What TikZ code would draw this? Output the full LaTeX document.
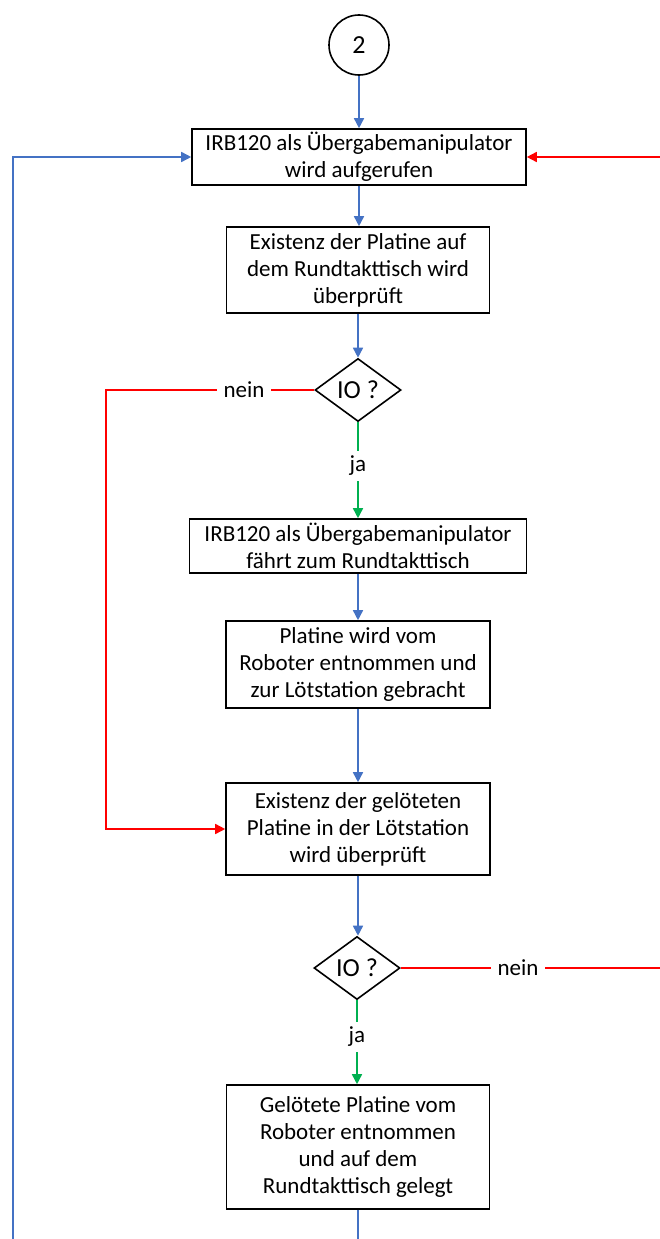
\documentclass[tikz,border=0pt]{standalone}
\usepackage{fontspec}
\setmainfont{Carlito}
\usetikzlibrary{shapes.geometric,arrows.meta}
\definecolor{flowblue}{HTML}{4472C4}
\definecolor{flowred}{HTML}{FF0000}
\definecolor{flowgreen}{HTML}{00B050}
\begin{document}
\begin{tikzpicture}[x=1pt,y=-1pt,
  every node/.style={font=\fontsize{23}{27}\selectfont},
  stepbox/.style={draw=black, line width=1.6pt, rectangle, align=center, inner sep=0pt},
  decision/.style={draw=black, line width=1.6pt, shape=diamond, inner sep=0pt,
    minimum width=86pt, minimum height=63pt, font=\fontsize{26}{30}\selectfont},
  connector/.style={draw=black, line width=1.6pt, circle, minimum size=60pt, inner sep=0pt,
    font=\fontsize{26}{30}\selectfont},
  tip/.style={-{Triangle[length=10pt,width=10pt]}},
  bluepath/.style={draw=flowblue, line width=1.6pt},
  redpath/.style={draw=flowred, line width=1.6pt},
  greenpath/.style={draw=flowgreen, line width=1.6pt},
  lbl/.style={fill=white, inner xsep=7pt, inner ysep=5pt}
]
\useasboundingbox (0,0) rectangle (660,1239);
\clip (0,0) rectangle (660,1239);

% process steps
\node[connector] (c2) at (359,45) {2};
\node[stepbox, minimum width=334pt, minimum height=56pt] (b1) at (359,157)
  {IRB120 als Übergabemanipulator\\wird aufgerufen};
\node[stepbox, minimum width=263pt, minimum height=86pt] (b2) at (358,270)
  {Existenz der Platine auf\\dem Rundtakttisch wird\\überprüft};
\node[decision] (d1) at (358,390) {IO ?};
\node[stepbox, minimum width=337pt, minimum height=54pt] (b3) at (358,546)
  {IRB120 als Übergabemanipulator\\fährt zum Rundtakttisch};
\node[stepbox, minimum width=264pt, minimum height=87pt] (b4) at (358,664.5)
  {Platine wird vom\\Roboter entnommen und\\zur Lötstation gebracht};
\node[stepbox, minimum width=264pt, minimum height=92pt] (b5) at (358,829)
  {Existenz der gelöteten\\Platine in der Lötstation\\wird überprüft};
\node[decision] (d2) at (357,968) {IO ?};
\node[stepbox, minimum width=263pt, minimum height=124pt] (b6) at (358,1147)
  {Gelötete Platine vom\\Roboter entnommen\\und auf dem\\Rundtakttisch gelegt};

% corner points of the loops
\coordinate (nl) at (106,390);
\coordinate (lb) at (13,1280);
\coordinate (lt) at (13,157);
\coordinate (rb) at (672,968);
\coordinate (rt) at (672,157);

% main flow
\draw[bluepath, tip] (c2) -- (b1);
\draw[bluepath, tip] (b1.south) -- (b1.south |- b2.north);
\draw[bluepath, tip] (b2) -- (d1);
\draw[bluepath, tip] (b3) -- (b4);
\draw[bluepath, tip] (b4) -- (b5);
\draw[bluepath, tip] (b5.south) -- (b5.south |- d2.north);
\draw[greenpath, tip] (d1) -- (b3);
\draw[greenpath, tip] (d2.south) -- (d2.south |- b6.north);

% return loop to the start
\draw[bluepath, tip] (b6.south) |- (lb) -- (lt) -- (b1.west);

% "nein" branches
\draw[redpath, tip] (d1.west) -- (nl) |- (b5.west);
\draw[redpath, tip] (d2.east) -- (rb) -- (rt) -- (b1.east);

% branch labels
\node[lbl] (n1) at (244,390) {nein};
\node[lbl] (n2) at (518,968) {nein};
\node[lbl] (j1) at (358,466) {ja};
\node[lbl] (j2) at (357,1037) {ja};
\end{tikzpicture}
\end{document}
